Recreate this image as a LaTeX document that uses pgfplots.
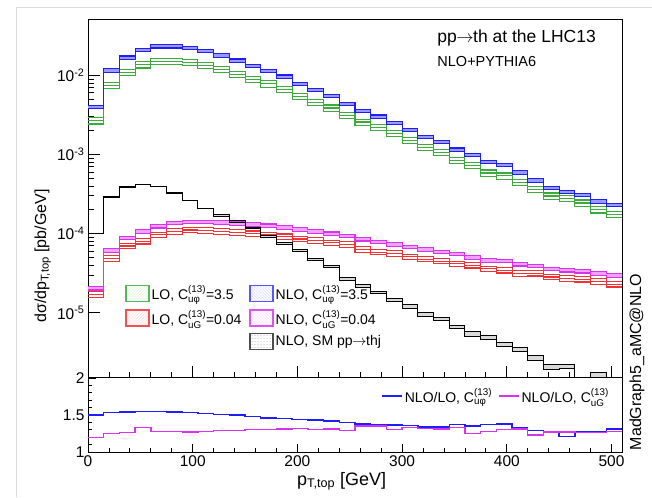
\documentclass[border=0pt]{standalone}
\usepackage{amsmath}
\usepackage{fontspec}
\setmainfont{Liberation Sans}
\usepackage{pgfplots}
\pgfplotsset{compat=1.18}
\usepackage{pgfplotstable}
\usepgfplotslibrary{fillbetween}
\usetikzlibrary{patterns}

\definecolor{rgreen}{RGB}{60,170,60}
\definecolor{rred}{RGB}{240,50,50}
\definecolor{rblue}{RGB}{30,30,250}
\definecolor{rmag}{RGB}{215,50,240}

\newcommand{\Cop}[1]{C$^{\text{(13)}}_{\text{#1}}$}
\newcommand{\arr}{\kern-0.5pt$\rightarrow$\kern-0.5pt}

% bin left edge, LO/NLO for C_uphi, LO/NLO for C_uG, SM thj, rel. band of SM
\pgfplotstableread{
x   lophi    nlophi   loG      nloG     sm      ek
0   2.67e-3  4.0e-3   1.70e-5  2.04e-5  1.00e-4 0.01
15  7.52e-3  1.15e-2  4.88e-5  6.1e-5   2.90e-4 0.01
30  1.084e-2 1.67e-2  6.98e-5  8.8e-5   3.88e-4 0.01
45  1.359e-2 2.10e-2  8.05e-5  1.07e-4  4.17e-4 0.01
60  1.508e-2 2.33e-2  9.69e-5  1.24e-4  3.94e-4 0.01
75  1.513e-2 2.33e-2  1.063e-4 1.36e-4  3.26e-4 0.01
90  1.458e-2 2.23e-2  1.11e-4  1.41e-4  2.62e-4 0.01
105 1.342e-2 2.04e-2  1.10e-4  1.41e-4  2.07e-4 0.01
120 1.185e-2 1.79e-2  1.07e-4  1.38e-4  1.69e-4 0.02
135 1.02e-2  1.53e-2  1.04e-4  1.34e-4  1.42e-4 0.02
150 8.92e-3  1.32e-2  1.00e-4  1.30e-4  1.17e-4 0.02
165 7.81e-3  1.14e-2  9.69e-5  1.26e-4  9.2e-5  0.02
180 6.62e-3  9.6e-3   9.16e-5  1.20e-4  7.5e-5  0.03
195 5.42e-3  7.8e-3   8.56e-5  1.13e-4  6.1e-5  0.03
210 4.55e-3  6.5e-3   8.23e-5  1.07e-4  4.7e-5  0.03
225 3.87e-3  5.5e-3   7.63e-5  1.00e-4  3.8e-5  0.03
240 3.11e-3  4.36e-3  7.29e-5  9.4e-5   2.7e-5  0.04
255 2.57e-3  3.55e-3  6.30e-5  8.5e-5   2.2e-5  0.04
270 2.19e-3  3.0e-3   5.85e-5  7.9e-5   1.8e-5  0.04
285 1.83e-3  2.5e-3   5.62e-5  7.3e-5   1.45e-5 0.04
300 1.51e-3  2.04e-3  5.11e-5  6.8e-5   1.2e-5  0.05
315 1.24e-3  1.66e-3  4.77e-5  6.3e-5   9.5e-6  0.05
330 1.07e-3  1.44e-3  4.50e-5  5.9e-5   8.3e-6  0.05
345 8.39e-4  1.15e-3  4.14e-5  5.5e-5   6.6e-6  0.05
360 7.33e-4  9.9e-4   4.00e-5  5.0e-5   5.4e-6  0.06
375 5.84e-4  8.0e-4   3.59e-5  4.6e-5   4.9e-6  0.06
390 5.36e-4  7.4e-4   3.46e-5  4.5e-5   4.0e-6  0.06
405 4.42e-4  5.9e-4   3.13e-5  4.1e-5   3.4e-6  0.06
420 3.64e-4  4.7e-4   3.17e-5  3.9e-5   2.7e-6  0.07
435 2.99e-4  3.8e-4   2.83e-5  3.6e-5   2.05e-6 0.07
450 2.77e-4  3.35e-4  2.72e-5  3.45e-5  2.1e-6  0.07
465 2.44e-4  3.1e-4   2.66e-5  3.35e-5  1e-8    0.07
480 2.0e-4   2.54e-4  2.5e-5   3.15e-5  1.65e-6 0.07
495 1.75e-4  2.29e-4  2.3e-5   2.95e-5  1e-8    0.07
510 1.75e-4  2.29e-4  2.3e-5   2.95e-5  1e-8    0.07
}\spectra

% NLO/LO ratios
\pgfplotstableread{
x   rphi  rG
0   1.50  1.20
15  1.53  1.25
30  1.54  1.26
45  1.545 1.33
60  1.545 1.28
75  1.54  1.28
90  1.53  1.27
105 1.52  1.28
120 1.51  1.29
135 1.50  1.29
150 1.48  1.30
165 1.46  1.30
180 1.45  1.31
195 1.44  1.32
210 1.43  1.30
225 1.42  1.31
240 1.40  1.29
255 1.38  1.35
270 1.37  1.35
285 1.365 1.30
300 1.355 1.33
315 1.34  1.32
330 1.34  1.31
345 1.37  1.33
360 1.35  1.25
375 1.37  1.28
390 1.38  1.30
405 1.335 1.31
420 1.29  1.23
435 1.27  1.27
450 1.21  1.27
465 1.27  1.26
480 1.27  1.26
495 1.31  1.28
510 1.31  1.28
}\ratio

\pgfplotsset{
  hist/.style={const plot, forget plot, no markers, line width=1.1pt},
  rootaxis/.style={
    scale only axis, anchor=south west,
    xmin=0, xmax=510,
    tick pos=left, tick align=inside,
    axis line style={line width=1pt},
    every tick/.style={black, line width=0.8pt},
    tick label style={font=\fontsize{15.5}{18}\selectfont},
    /pgf/number format/assume math mode=true,
    xtick={0,100,...,500}, minor x tick num=4,
  },
}

% LO: three lines, NLO: filled band
\newcommand{\lolines}[3]{%
  \addplot[hist, #2] table[x=x, y expr=\thisrow{#1}*(1+#3)] {\spectra};
  \addplot[hist, #2] table[x=x, y=#1] {\spectra};
  \addplot[hist, #2] table[x=x, y expr=\thisrow{#1}*(1-#3)] {\spectra};
}
\newcommand{\nloband}[4]{%
  \addplot[hist, draw=none, name path=#1up] table[x=x, y expr=\thisrow{#1}*(1+#3)] {\spectra};
  \addplot[hist, draw=none, name path=#1dn] table[x=x, y expr=\thisrow{#1}*(1-#3)] {\spectra};
  \addplot[fill=#4, forget plot] fill between[of=#1up and #1dn];
  \addplot[hist, #2] table[x=x, y expr=\thisrow{#1}*(1+#3)] {\spectra};
  \addplot[hist, #2] table[x=x, y expr=\thisrow{#1}*(1-#3)] {\spectra};
}

\begin{document}
\begin{tikzpicture}
\path (0pt,0pt) rectangle (652pt,497pt);
\draw[gray!30, line width=0.8pt] (16pt,0pt) -- (16pt,490pt) -- (651.5pt,490pt);

\begin{axis}[rootaxis,
  at={(88pt,119pt)}, width=534pt, height=358pt,
  ymode=log, ymin=1.5e-6, ymax=0.05,
  major tick length=12pt, minor tick length=6pt,
  xticklabels={},
  ytick={1e-5,1e-4,1e-3,1e-2},
  yticklabels={10\textsuperscript{-5},10\textsuperscript{-4},10\textsuperscript{-3},10\textsuperscript{-2}},
  legend columns=2, legend cell align=left,
  legend style={at={(axis description cs:0.064,0.27)}, anchor=north west,
    draw=none, fill=none, font=\fontsize{14}{16}\selectfont,
    row sep=5pt, /tikz/every even column/.append style={column sep=6pt}},
  legend image code/.code={\draw[#1] (0pt,-8pt) rectangle (23pt,8pt);},
]
\lolines{lophi}{rgreen}{0.09}
\nloband{nlophi}{rblue}{0.05}{rblue!45}
\lolines{loG}{rred}{0.08}
\nloband{nloG}{rmag}{0.05}{rmag!45}
\nloband{sm}{black, line width=1pt}{\thisrow{ek}}{gray!30}

\addlegendimage{draw=rgreen!85, line width=1.2pt, pattern=north east lines, pattern color=rgreen!25}
\addlegendentry{LO, \Cop{uφ}=3.5}
\addlegendimage{draw=rblue!75, line width=1.2pt, pattern=north west lines, pattern color=rblue!25}
\addlegendentry{NLO, \Cop{uφ}=3.5}
\addlegendimage{draw=rred!85, line width=1.2pt, pattern=north east lines, pattern color=rred!25}
\addlegendentry{LO, \Cop{uG}=0.04}
\addlegendimage{draw=rmag!85, line width=1.2pt, pattern=north west lines, pattern color=rmag!25}
\addlegendentry{NLO, \Cop{uG}=0.04}
\addlegendimage{empty legend}
\addlegendentry{}
\addlegendimage{draw=black!70, line width=1.2pt, pattern=dots, pattern color=gray!70}
\addlegendentry{NLO, SM pp\arr thj}

\node[anchor=west, inner sep=0pt, font=\fontsize{17.5}{20}\selectfont]
  at (axis description cs:0.654,0.950) {pp\arr th at the LHC13};
\node[anchor=west, inner sep=0pt, font=\fontsize{14.5}{17}\selectfont]
  at (axis description cs:0.654,0.883) {NLO+PYTHIA6};
\end{axis}

\begin{axis}[rootaxis,
  at={(88pt,45pt)}, width=534pt, height=74pt,
  ymin=1, ymax=2,
  major tick length=8pt, minor tick length=4pt,
  ytick={1,1.5,2}, minor y tick num=4,
  legend columns=2,
  legend style={at={(axis description cs:0.985,0.76)}, anchor=east,
    draw=none, fill=none, font=\fontsize{14}{16}\selectfont,
    /tikz/every even column/.append style={column sep=4pt}},
  legend image code/.code={\draw[#1, line width=1.6pt] (0pt,0pt) -- (20pt,0pt);},
]
\addplot[const plot, no markers, rblue, line width=1.4pt, forget plot] table[x=x, y=rphi] {\ratio};
\addplot[const plot, no markers, rmag, line width=1.4pt, forget plot] table[x=x, y=rG] {\ratio};
\addlegendimage{rblue}
\addlegendentry{NLO/LO, \Cop{uφ}}
\addlegendimage{rmag}
\addlegendentry{NLO/LO, \Cop{uG}}
\end{axis}

\node[rotate=90, anchor=base, font=\fontsize{16}{19}\selectfont] at (46pt,241pt)
  {dσ/dp$_{\text{T,top}}$ [pb/GeV]};
\node[anchor=base west, inner sep=0pt, font=\fontsize{18}{21}\selectfont] at (297pt,12pt)
  {p$_{\text{T,top}}$ [GeV]};
\node[rotate=90, anchor=base, font=\fontsize{16}{19}\selectfont] at (641pt,135pt)
  {MadGraph5\_aMC@NLO};
\end{tikzpicture}
\end{document}
